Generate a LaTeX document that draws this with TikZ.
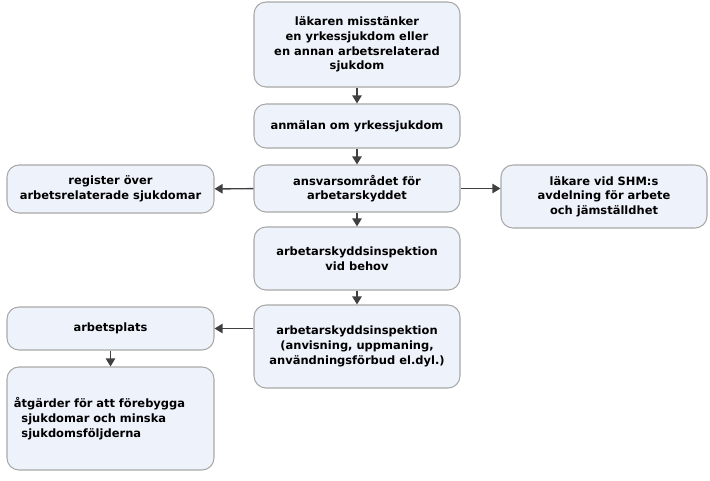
\documentclass[tikz,border=0pt]{standalone}
\usepackage{fontspec}
\setmainfont{DejaVu Sans}
\usetikzlibrary{arrows.meta}
\definecolor{boxfill}{HTML}{EEF3FB}
\definecolor{boxline}{HTML}{A8A8A8}
\definecolor{arrowgray}{HTML}{404040}
\tikzset{
  flowbox/.style={draw=boxline,fill=boxfill,rounded corners=9pt,line width=0.8pt,
    align=center,font=\bfseries\fontsize{8.6}{11}\selectfont,inner sep=0pt},
  flowarrow/.style={-{Triangle[length=6pt,width=7pt]},draw=arrowgray,line width=1.1pt}
}
\begin{document}
\begin{tikzpicture}[x=0.75pt,y=-0.75pt]
  \useasboundingbox (0,0) rectangle (710,480);
  % boxes, centred at pixel coordinates
  \node[flowbox,minimum width=154.5pt,minimum height=63.75pt] (suspect) at (357,44.5)
    {läkaren misstänker\\en yrkessjukdom eller\\en annan arbetsrelaterad\\sjukdom};
  \node[flowbox,minimum width=154.5pt,minimum height=33pt] (report) at (357,126)
    {anmälan om yrkessjukdom};
  \node[flowbox,minimum width=154.5pt,minimum height=35.25pt] (area) at (357,188.5)
    {ansvarsområdet för\\arbetarskyddet};
  \node[flowbox,minimum width=155.25pt,minimum height=36pt] (register) at (110.5,189)
    {register över\\arbetsrelaterade sjukdomar};
  \node[flowbox,minimum width=154.5pt,minimum height=47.25pt] (doctor) at (604,196.5)
    {läkare vid SHM:s\\avdelning för arbete\\och jämställdhet};
  \node[flowbox,minimum width=154.5pt,minimum height=47.25pt] (need) at (357,258.5)
    {arbetarskyddsinspektion\\vid behov};
  \node[flowbox,minimum width=154.5pt,minimum height=62.25pt] (inspect) at (357,346.5)
    {arbetarskyddsinspektion\\(anvisning, uppmaning,\\användningsförbud el.dyl.)};
  \node[flowbox,minimum width=155.25pt,minimum height=32.25pt] (workplace) at (110.5,328.5)
    {arbetsplats};
  \node[flowbox,minimum width=155.25pt,minimum height=77.25pt,text width=145pt,align=left] (measures) at (110.5,418.5)
    {åtgärder för att förebygga\\ \ \ sjukdomar och minska\\ \ \ sjukdomsföljderna};
  % arrows
  \draw[flowarrow] (suspect) -- (report);
  \draw[flowarrow] (report) -- (area);
  \draw[flowarrow] (area) -- (register);
  \draw[flowarrow] (area) -- (doctor.west |- area);
  \draw[flowarrow] (area) -- (need);
  \draw[flowarrow] (need) -- (inspect);
  \draw[flowarrow] (inspect.west |- workplace) -- (workplace);
  \draw[flowarrow] (workplace) -- (measures);
\end{tikzpicture}
\end{document}
